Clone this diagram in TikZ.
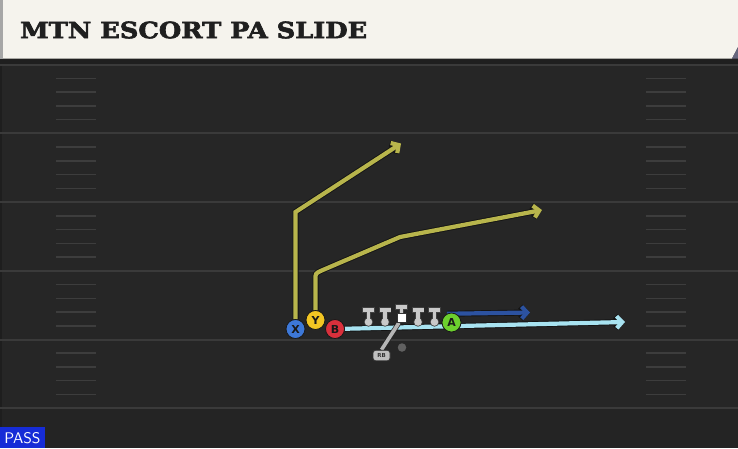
\documentclass[tikz,border=0pt]{standalone}
\usepackage{fontspec}
\setmainfont{DejaVu Sans}
\newfontfamily\titlefont{DejaVu Serif}[BoldFeatures={FakeBold=2.5}]
\usetikzlibrary{arrows.meta}
\definecolor{fieldbg}{HTML}{262626}
\definecolor{fieldline}{HTML}{3a3a3a}
\definecolor{hashc}{HTML}{3d3d3d}
\definecolor{cream}{HTML}{F5F3ED}
\definecolor{olive}{HTML}{B8B54C}
\definecolor{lblue}{HTML}{A8E3F1}
\definecolor{dblue}{HTML}{2C52A0}
\definecolor{xblue}{HTML}{3D78D8}
\definecolor{yyellow}{HTML}{F2C523}
\definecolor{bred}{HTML}{D9303C}
\definecolor{agreen}{HTML}{6CCF2E}
\definecolor{linegray}{HTML}{C9C9C9}
\definecolor{passblue}{RGB}{22,44,215}
\pgfdeclarelayer{fieldlayer}
\pgfdeclarelayer{routelayer}
\pgfsetlayers{fieldlayer,routelayer,main}
\tikzset{
  route/.style={draw=#1, line width=4.2pt, line join=miter,
    -{Straight Barb[length=5.5pt,width=12pt]},
    preaction={draw=black!92, line width=6pt}},
  player/.style={circle, minimum size=19pt, inner sep=0pt, fill=#1,
    draw=black!90, line width=0.8pt, text=black!90,
    font=\bfseries\fontsize{11}{11}\selectfont},
  yardline/.style={draw=fieldline, line width=2pt},
  hashmark/.style={draw=hashc, line width=1.5pt},
  olpiece/.style={draw=black!75, line width=1.6pt},
  olfill/.style={fill=linegray}
}
\begin{document}
\begin{tikzpicture}[x=1pt,y=-1pt]
\useasboundingbox (0,0) rectangle (738,448);
\begin{pgfonlayer}{fieldlayer}
  \fill[fieldbg] (0,0) rectangle (738,448);
  \fill[black!6!fieldbg] (0,409) rectangle (738,448);
  \fill[black!88] (0,0) rectangle (738,64);
  \fill[black!22!fieldbg] (0,64) rectangle (2,448);
  \foreach \i in {0,...,5} {
    \draw[yardline] (0,64.7+68.7*\i) -- (738,64.7+68.7*\i);
  }
  \foreach \i in {0,...,4} {
    \foreach \k in {1,...,4} {
      \draw[hashmark] (56,64.7+68.7*\i+13.74*\k) -- (96,64.7+68.7*\i+13.74*\k);
      \draw[hashmark] (646,64.7+68.7*\i+13.74*\k) -- (686,64.7+68.7*\i+13.74*\k);
    }
  }
  % title bar
  \fill[cream] (3,0) -- (738,0) -- (738,47) -- (732,58.5) -- (3,58.5) -- cycle;
  \fill[black!55!blue!20!gray] (732,58.5) -- (738,47) -- (738,58.5) -- cycle;
  \fill[black!35] (0,0) rectangle (3,58.5);
  \node[anchor=west, inner sep=0pt, text=black!88] (title) at (20,30)
    {\resizebox{347pt}{16.7pt}{\titlefont\bfseries MTN ESCORT PA SLIDE}};
  % pass label
  \fill[passblue] (0,427) rectangle (45,448);
  \node[inner sep=0pt, text=white] (pass) at (22.5,438.5)
    {\resizebox{36pt}{11pt}{\sffamily PASS}};
\end{pgfonlayer}

% players
\node[player=xblue] (X) at (295.5,329) {X};
\node[player=yyellow] (Y) at (315.5,320) {Y};
\node[player=bred] (B) at (335,329) {B};
\node[player=agreen] (A) at (451.5,322.5) {A};

% offensive line
\foreach \x/\t in {368.5/307.5,385/307.5,418/307.5,434.5/307.5} {
  \draw[olpiece] (\x-5.5,\t) rectangle (\x+5.5,\t+4.4);
  \draw[olpiece] (\x-1.9,\t+4.4) rectangle (\x+1.9,\t+13);
  \draw[olpiece] (\x,322) circle (3.8);
  \fill[olfill] (\x-5.5,\t) rectangle (\x+5.5,\t+4.4);
  \fill[olfill] (\x-1.9,\t+2) rectangle (\x+1.9,\t+13);
  \fill[olfill] (\x,322) circle (3.8);
}
\draw[olpiece] (396,304.5) rectangle (407,308.9);
\draw[olpiece] (399.6,308.9) rectangle (403.4,315);
\fill[olfill] (396,304.5) rectangle (407,308.9);
\fill[olfill] (399.6,307) rectangle (403.4,315);
\node[fill=white, draw=black!80, line width=0.6pt, minimum size=9pt, inner sep=0pt] (ball) at (402,318) {};

% QB dot and RB
\node[circle, fill=black!62, minimum size=8.5pt, inner sep=0pt] (qb) at (402,347.5) {};
\node[fill=black!25, draw=black!80, line width=0.9pt, rounded corners=2.5pt,
  minimum width=17pt, minimum height=10.5pt, inner sep=0pt,
  font=\bfseries\fontsize{5.5}{5.5}\selectfont, text=black!80] (RB) at (381.5,355.5) {RB};

\begin{pgfonlayer}{routelayer}
  \coordinate (xbreak) at (295.5,212);
  \coordinate (xtip) at (401,143.5);
  \coordinate (ybreak1) at (315.5,279);
  \coordinate (ybreak2) at (320.5,271);
  \coordinate (ybreak3) at (400,237);
  \coordinate (ytip) at (542,210);
  \coordinate (btip) at (625,322);
  \coordinate (atip) at (530,312.5);
  \draw[route=olive] (X) -- (xbreak) -- (xtip);
  \draw[route=olive] (Y) -- (ybreak1) .. controls (315.5,273.5) .. (ybreak2) -- (ybreak3) -- (ytip);
  \draw[route=lblue] (B) -- (btip);
  \draw[route=dblue] (A.118) -- (atip);
  \draw[draw=linegray!90!black, line width=3.6pt, preaction={draw=black!85, line width=5pt}] (RB.north) -- (ball);
\end{pgfonlayer}
\end{tikzpicture}
\end{document}
